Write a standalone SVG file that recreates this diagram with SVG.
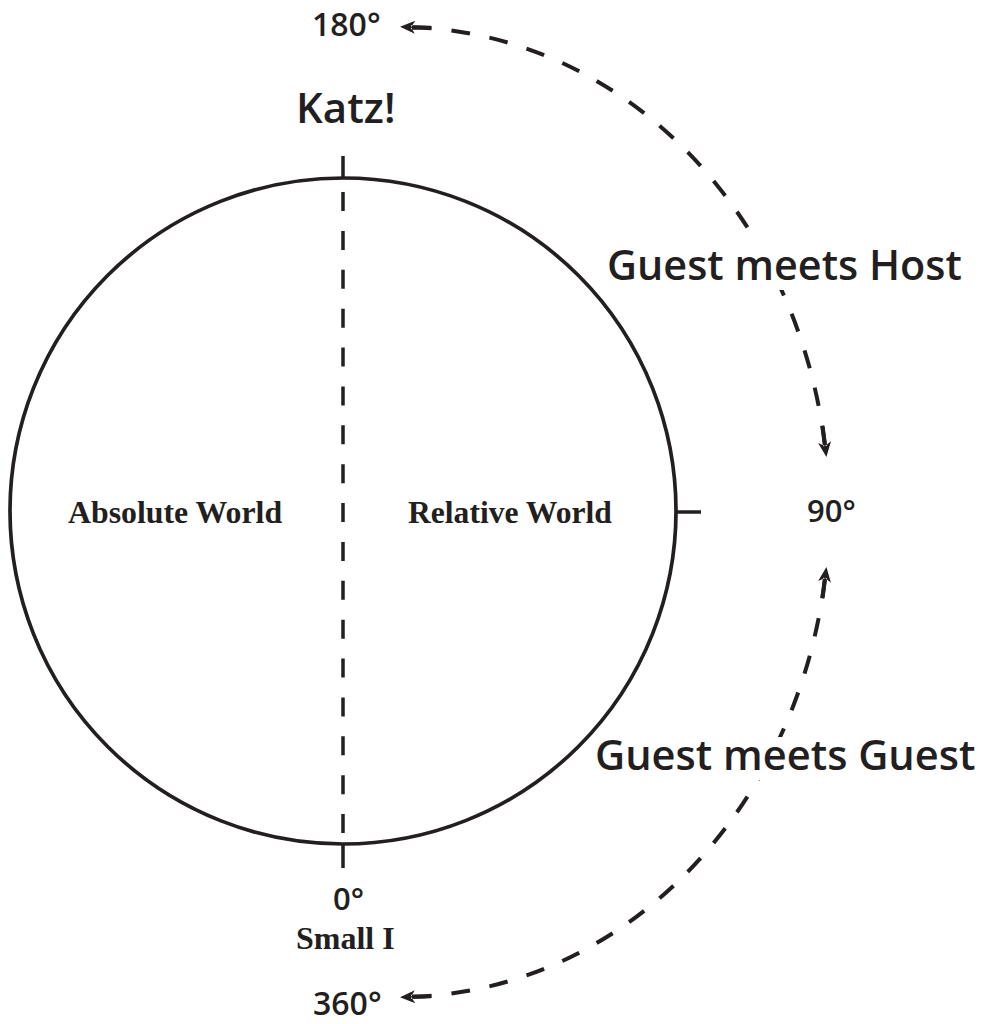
<svg xmlns="http://www.w3.org/2000/svg" width="982" height="1024" viewBox="0 0 982 1024">
<style>
.sans{font-family:"Open Sans","Liberation Sans",sans-serif;font-weight:600;fill:#231f20}
.serif{font-family:"Liberation Serif","DejaVu Serif",serif;font-weight:bold;fill:#231f20}
.arc{fill:none;stroke:#231f20;stroke-width:4;stroke-dasharray:19 20}
.ink{fill:none;stroke:#231f20}
</style>
<defs>
<marker id="arr" markerUnits="userSpaceOnUse" markerWidth="40" markerHeight="20" viewBox="-20 -10 40 20" refX="0" refY="0" orient="auto-start-reverse" overflow="visible">
<path d="M13,0 L-2,-6.5 L2,0 L-2,6.5 Z M-18,-2 L2,-2 L2,2 L-18,2 Z" fill="#231f20"/>
</marker>
</defs>
<rect width="982" height="1024" fill="#ffffff"/>
<g id="connectors">
<path class="arc" pathLength="643" d="M413,27.2 A429,485 0 0 1 824.8,444.1" marker-start="url(#arr)" marker-end="url(#arr)"/>
<path class="arc" pathLength="643" d="M824.8,579.9 A429,485 0 0 1 413,996.8" marker-start="url(#arr)" marker-end="url(#arr)"/>
</g>
<g id="world-circle">
<circle class="ink" cx="343" cy="511" r="333" stroke-width="3.7"/>
<line class="ink" x1="343" y1="156" x2="343" y2="178" stroke-width="3.5"/>
<line class="ink" x1="343" y1="844" x2="343" y2="868" stroke-width="3.5"/>
<line class="ink" x1="343" y1="192" x2="343" y2="833" stroke-width="3.5" stroke-dasharray="19 19.875"/>
<line class="ink" x1="676" y1="512" x2="701" y2="512" stroke-width="3.5"/>
</g>
<g id="absolute-world"><text class="serif" x="68" y="523" font-size="31.8">Absolute World</text></g>
<g id="relative-world"><text class="serif" x="408" y="523" font-size="31.6">Relative World</text></g>
<g id="katz"><text class="sans" x="296" y="123" font-size="42">Katz!</text></g>
<g id="deg-180"><text class="sans" x="312" y="36" font-size="32">180°</text></g>
<g id="deg-90"><text class="sans" x="807" y="522" font-size="31">90°</text></g>
<g id="deg-0"><text class="sans" x="333" y="910" font-size="31">0°</text></g>
<g id="small-i"><text class="serif" x="296" y="949" font-size="32">Small I</text></g>
<g id="deg-360"><text class="sans" x="313" y="1015" font-size="32">360°</text></g>
<g id="guest-host">
<rect x="600" y="243" width="370" height="47" fill="#ffffff"/>
<text class="sans" x="607" y="280" font-size="41.4">Guest meets Host</text>
</g>
<g id="guest-guest">
<rect x="590" y="737" width="390" height="43" fill="#ffffff"/>
<text class="sans" x="595" y="770" font-size="41.6">Guest meets Guest</text>
</g>
</svg>
